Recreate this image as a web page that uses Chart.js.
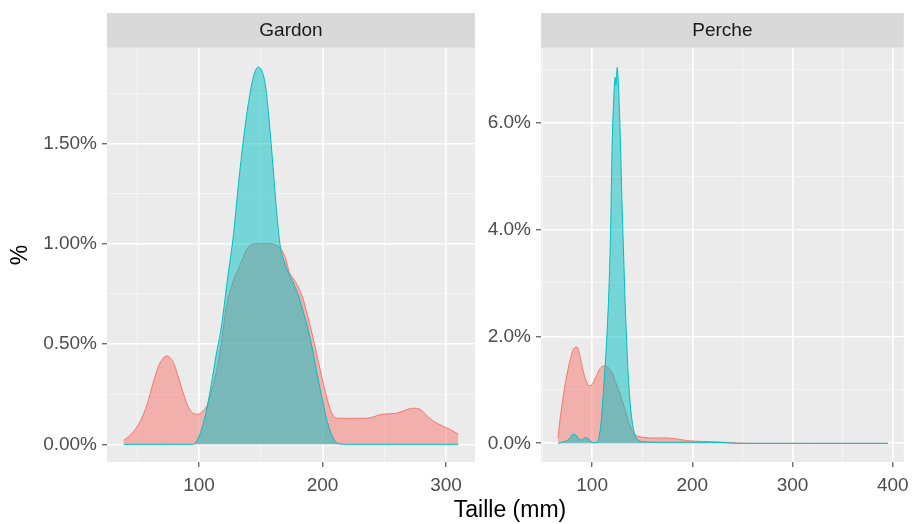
<!DOCTYPE html>
<html lang="fr">
<head>
<meta charset="UTF-8">
<title>Taille - Gardon / Perche</title>
<script src="https://cdn.jsdelivr.net/npm/chart.js"></script>
<style>
  body { margin: 0; background: #fff; font-family: "Liberation Sans", Arial, sans-serif; }
  #wrap { position: relative; width: 916px; height: 524px; }
  .panel { position: absolute; top: 0; height: 524px; }
  #gardonBox { left: 0; width: 476px; }
  #percheBox { left: 476px; width: 440px; }
  #xTitle { position: absolute; left: 310px; width: 400px; top: 496px; text-align: center;
            font-size: 23px; line-height: 26px; color: #000; }
</style>
</head>
<body>
<div id="wrap">
  <div class="panel" id="gardonBox"><canvas id="gardon"></canvas></div>
  <div class="panel" id="percheBox"><canvas id="perche"></canvas></div>
  <div id="xTitle">Taille (mm)</div>
</div>

<script>
// density curves, values in %
const gardonPinkX = [39, 45, 52, 58, 63, 68, 74, 79, 83, 87, 91, 95, 99, 103, 107, 110, 114, 118, 122, 127,
                     133, 137, 141, 145, 150, 158, 163, 166, 170, 173, 176, 180, 184, 188, 192, 196, 200, 204, 208, 213,
                     222, 235, 249, 260, 267, 273, 279, 285, 290, 296, 303, 310];
const gardonPinkY = [0.02, 0.05, 0.11, 0.20, 0.31, 0.40, 0.44, 0.41, 0.34, 0.26, 0.19, 0.155, 0.15, 0.165, 0.20, 0.26, 0.36, 0.50, 0.68, 0.80,
                     0.89, 0.95, 0.99, 1.0, 1.0, 1.0, 0.99, 0.975, 0.93, 0.86, 0.83, 0.79, 0.73, 0.64, 0.54, 0.43, 0.32, 0.22, 0.15, 0.13,
                     0.13, 0.13, 0.15, 0.155, 0.17, 0.18, 0.175, 0.14, 0.115, 0.095, 0.075, 0.05];
const gardonTealX = [39, 60, 80, 95, 100, 105, 110, 114, 118, 123, 128, 132, 136, 140, 144, 148, 151, 154, 157, 160,
                     163, 166, 169, 172, 176, 180, 184, 188, 192, 196, 200, 204, 208, 212, 220, 260, 310];
const gardonTealY = [0, 0, 0, 0, 0.04, 0.14, 0.30, 0.45, 0.58, 0.82, 1.05, 1.30, 1.52, 1.70, 1.83, 1.88, 1.86, 1.78, 1.60, 1.38,
                     1.15, 0.98, 0.91, 0.86, 0.81, 0.75, 0.67, 0.58, 0.47, 0.34, 0.22, 0.11, 0.04, 0.005, 0, 0, 0];

const perchePinkX = [66, 68, 71, 74, 78, 82, 85, 88, 91, 94, 97, 100, 104, 108, 112, 116, 120, 124, 127, 130,
                     133, 136, 139, 142, 146, 152, 160, 175, 185, 195, 210, 230, 245, 260, 320, 395];
const perchePinkY = [0.1, 0.45, 0.85, 1.2, 1.55, 1.78, 1.80, 1.62, 1.36, 1.17, 1.08, 1.10, 1.25, 1.40, 1.45, 1.42, 1.32, 1.12, 0.97, 0.80,
                     0.62, 0.42, 0.27, 0.18, 0.13, 0.11, 0.10, 0.10, 0.08, 0.05, 0.035, 0.02, 0.005, 0, 0, 0];
const percheTealX = [66, 72, 77, 81, 84, 87, 90, 93, 96, 99, 102, 105, 107, 109, 111, 113, 115, 117, 118.5, 120,
                     121.5, 123, 123.8, 125, 126.3, 127.5, 128.7, 130, 131.5, 133, 134.5, 136, 138, 140, 142, 144, 147, 150, 170, 200,
                     230, 245, 320, 395];
const percheTealY = [0, 0.03, 0.08, 0.17, 0.15, 0.08, 0.06, 0.11, 0.09, 0.03, 0.01, 0.02, 0.12, 0.4, 0.9, 1.45, 2.1, 3.0, 4.0, 5.6,
                     6.4, 6.85, 6.7, 7.03, 6.7, 6.1, 5.3, 4.4, 3.5, 2.6, 1.9, 1.3, 0.75, 0.4, 0.2, 0.1, 0.05, 0.03, 0.02, 0.02,
                     0.015, 0, 0, 0];

// axes: major ticks carry labels, minor ones only a grid line
const gardonXMajor = [100, 200, 300];
const gardonXMinor = [50, 150, 250];
const gardonYMajor = [0, 0.5, 1.0, 1.5];
const gardonYMinor = [0.25, 0.75, 1.25, 1.75];
const percheXMajor = [100, 200, 300, 400];
const percheXMinor = [50, 150, 250, 350];
const percheYMajor = [0, 2, 4, 6];
const percheYMinor = [1, 3, 5, 7];

const FONT = '"Liberation Sans", Arial, sans-serif';
const PINK = '#F8766D', TEAL = '#00BFC4';

function toPoints(xs, ys) {
    return xs.map((x, i) => ({ x: x, y: ys[i] }));
}

function isIn(list, v) {
    return list.some(m => Math.abs(m - v) < 1e-6);
}

function gridOpts(major) {
    const maj = ctx => ctx.tick && isIn(major, ctx.tick.value);
    return {
        color: ctx => maj(ctx) ? '#ffffff' : '#f6f6f6',
        lineWidth: ctx => maj(ctx) ? 1.6 : 0.9,
        tickColor: ctx => maj(ctx) ? '#333333' : 'rgba(0,0,0,0)',
        tickWidth: 1,
        tickLength: 5,
        drawTicks: true
    };
}

// grey strip behind the facet title + grey panel background
const panelBg = {
    id: 'panelBg',
    beforeDraw(chart) {
        const { ctx, chartArea } = chart;
        const tb = chart.titleBlock;
        ctx.save();
        ctx.fillStyle = '#d9d9d9';
        ctx.fillRect(chartArea.left, tb.top, chartArea.right - chartArea.left, tb.bottom - tb.top);
        ctx.fillStyle = '#ebebeb';
        ctx.fillRect(chartArea.left, chartArea.top, chartArea.right - chartArea.left, chartArea.bottom - chartArea.top);
        ctx.restore();
    }
};

function densityChart(id, title, pink, teal, o) {
    const ds = (pts, col, order) => ({
        data: pts,
        borderColor: col,
        backgroundColor: col + '80',
        borderWidth: 1,
        pointRadius: 0,
        fill: 'origin',
        cubicInterpolationMode: 'monotone',
        order: order
    });
    return new Chart(document.getElementById(id), {
        type: 'line',
        data: { datasets: [ds(teal, TEAL, 1), ds(pink, PINK, 2)] },
        options: {
            responsive: true,
            maintainAspectRatio: false,
            animation: false,
            parsing: false,
            layout: { padding: { top: 13, right: o.padRight, left: 0, bottom: 0 } },
            plugins: {
                legend: { display: false },
                tooltip: { enabled: false },
                title: {
                    display: true,
                    text: title,
                    fullSize: false,
                    color: '#1a1a1a',
                    font: { family: FONT, size: 19, weight: 'normal' },
                    padding: { top: 6, bottom: 6 }
                }
            },
            scales: {
                x: {
                    type: 'linear',
                    min: o.xMin, max: o.xMax,
                    afterBuildTicks: s => {
                        s.ticks = o.xMajor.concat(o.xMinor).sort((a, b) => a - b).map(v => ({ value: v }));
                    },
                    afterFit: s => { s.height = 62; },
                    border: { display: false },
                    grid: gridOpts(o.xMajor),
                    ticks: {
                        autoSkip: false, maxRotation: 0, padding: 7,
                        color: '#4d4d4d', font: { family: FONT, size: 19 },
                        callback: v => isIn(o.xMajor, v) ? String(v) : ''
                    }
                },
                y: {
                    type: 'linear',
                    min: o.yMin, max: o.yMax,
                    afterBuildTicks: s => {
                        s.ticks = o.yMajor.concat(o.yMinor).sort((a, b) => a - b).map(v => ({ value: v }));
                    },
                    afterFit: s => { s.width = o.yWidth; },
                    border: { display: false },
                    grid: gridOpts(o.yMajor),
                    title: {
                        display: o.yTitle !== '',
                        text: o.yTitle,
                        color: '#000',
                        font: { family: FONT, size: 23 },
                        padding: { top: 7, bottom: 0 }
                    },
                    ticks: {
                        autoSkip: false, padding: 5,
                        color: '#4d4d4d', font: { family: FONT, size: 19 },
                        callback: v => isIn(o.yMajor, v) ? v.toFixed(o.decimals) + '%' : ''
                    }
                }
            }
        },
        plugins: [panelBg]
    });
}

densityChart('gardon', 'Gardon',
    toPoints(gardonPinkX, gardonPinkY), toPoints(gardonTealX, gardonTealY), {
        xMin: 25.5, xMax: 323.5, xMajor: gardonXMajor, xMinor: gardonXMinor,
        yMin: -0.088, yMax: 1.976, yMajor: gardonYMajor, yMinor: gardonYMinor,
        decimals: 2, yWidth: 107, yTitle: '%', padRight: 1
    });

densityChart('perche', 'Perche',
    toPoints(perchePinkX, perchePinkY), toPoints(percheTealX, percheTealY), {
        xMin: 49, xMax: 411, xMajor: percheXMajor, xMinor: percheXMinor,
        yMin: -0.35, yMax: 7.40, yMajor: percheYMajor, yMinor: percheYMinor,
        decimals: 1, yWidth: 65, yTitle: '', padRight: 8
    });
</script>
</body>
</html>
